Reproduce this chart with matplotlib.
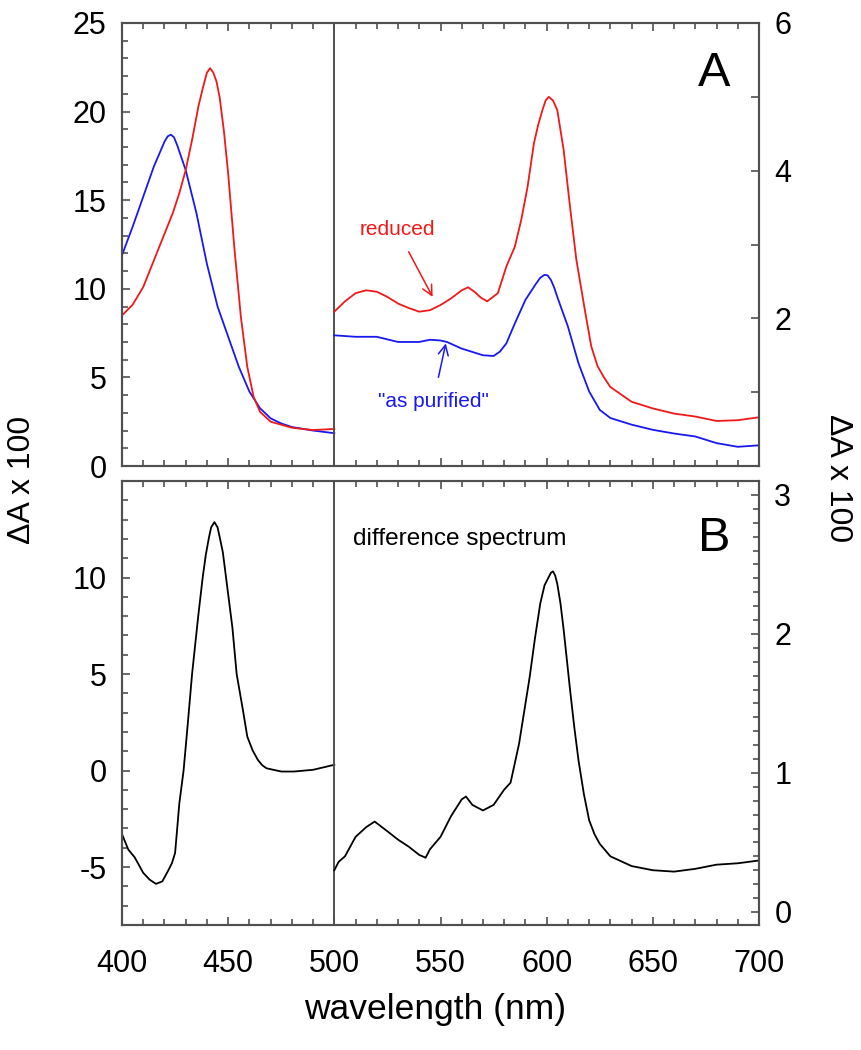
import matplotlib
matplotlib.use("Agg")
import matplotlib.pyplot as plt
from matplotlib.ticker import MultipleLocator, FixedLocator

plt.rcParams['font.family'] = ['Liberation Sans', 'DejaVu Sans']
plt.rcParams['axes.unicode_minus'] = False

# ---------------- data ----------------
# Panel A, left part (400-500 nm), left axis
A_left_blue_nm = [400, 405, 410, 415, 420, 421.5, 423, 424.5, 426, 430, 435, 440, 445, 450, 455, 460, 465, 470, 475, 480, 490, 500]
A_left_blue = [11.9, 13.5, 15.2, 16.9, 18.3, 18.6, 18.7, 18.55, 18.1, 16.7, 14.3, 11.4, 9.0, 7.3, 5.6, 4.2, 3.26, 2.69, 2.4, 2.2, 2.0, 1.85]
A_left_red_nm = [400, 405, 410, 415, 420, 424, 427, 430, 433, 436, 438, 440, 441.5, 443, 444.5, 446, 448, 450, 453, 456, 459, 462, 465, 470, 480, 490, 500]
A_left_red = [8.5, 9.1, 10.1, 11.6, 13.1, 14.3, 15.4, 16.7, 18.4, 20.3, 21.3, 22.2, 22.45, 22.2, 21.7, 20.8, 18.9, 16.5, 12.2, 8.4, 5.6, 3.9, 3.06, 2.5, 2.16, 2.03, 2.09]

# Panel A, right part (500-700 nm), right axis
A_right_red_nm = [500, 505, 510, 515, 520, 525, 530, 535, 540, 545, 550, 555, 560, 563, 566, 569, 572, 577, 581, 585, 588, 591, 594, 596, 598, 599.5, 601, 603, 605, 608, 611, 614, 618, 621, 624, 627, 630, 640, 650, 660, 670, 680, 690, 700]
A_right_red = [2.09, 2.23, 2.34, 2.38, 2.36, 2.29, 2.20, 2.14, 2.09, 2.11, 2.18, 2.27, 2.38, 2.42, 2.36, 2.28, 2.23, 2.34, 2.70, 2.97, 3.33, 3.78, 4.37, 4.62, 4.82, 4.95, 5.00, 4.95, 4.82, 4.28, 3.51, 2.79, 2.11, 1.62, 1.35, 1.20, 1.07, 0.87, 0.78, 0.71, 0.67, 0.61, 0.62, 0.66]
A_right_blue_nm = [500, 510, 520, 530, 540, 545, 550, 553, 560, 570, 575, 578, 581, 585, 590, 595, 597, 599, 600.5, 602, 603.5, 605, 610, 615, 620, 625, 630, 640, 650, 660, 670, 680, 690, 700]
A_right_blue = [1.77, 1.75, 1.75, 1.68, 1.68, 1.71, 1.70, 1.68, 1.59, 1.50, 1.49, 1.55, 1.66, 1.93, 2.25, 2.47, 2.55, 2.59, 2.58, 2.52, 2.42, 2.29, 1.89, 1.39, 1.01, 0.76, 0.65, 0.56, 0.49, 0.44, 0.40, 0.31, 0.26, 0.28]

# Panel B (difference spectrum)
B_left_nm = [400, 403, 406, 410, 413, 416, 419, 422, 423.5, 425, 426, 427, 429, 431, 433, 436, 438, 439.5, 441, 442, 443.5, 445, 446, 447.5, 449, 450.5, 452, 454, 457, 459, 461.5, 464, 466, 468, 475, 481, 490, 500]
B_left = [-3.3, -4.1, -4.5, -5.3, -5.65, -5.87, -5.74, -5.13, -4.8, -4.27, -3.0, -1.7, 0.0, 2.45, 5.0, 8.1, 10.0, 11.2, 12.1, 12.6, 12.87, 12.6, 12.1, 11.3, 10.0, 8.7, 7.4, 5.0, 3.1, 1.76, 1.05, 0.55, 0.28, 0.12, -0.05, -0.05, 0.04, 0.30]
B_right_nm = [500, 502, 505, 510, 515, 519, 525, 530, 535, 540, 543, 545, 550, 555, 560, 562, 565, 570, 575, 580, 583, 587, 589.5, 592, 594.5, 597, 599, 601, 602, 603, 604, 605, 606.5, 608, 611, 613, 615, 617.5, 620, 622.5, 625, 630, 640, 650, 660, 670, 680, 690, 700]
B_right = [0.30, 0.36, 0.40, 0.54, 0.61, 0.65, 0.58, 0.52, 0.47, 0.41, 0.39, 0.45, 0.54, 0.69, 0.81, 0.83, 0.77, 0.73, 0.77, 0.88, 0.93, 1.21, 1.45, 1.69, 1.97, 2.22, 2.35, 2.41, 2.44, 2.45, 2.42, 2.36, 2.22, 2.03, 1.60, 1.33, 1.09, 0.85, 0.66, 0.56, 0.49, 0.40, 0.33, 0.30, 0.29, 0.31, 0.34, 0.35, 0.37]

x_major = [400, 450, 500, 550, 600, 650, 700]
A_left_ticks = [0, 5, 10, 15, 20, 25]
A_right_ticks = [2, 4, 6]
B_left_ticks = [-5, 0, 5, 10]
B_right_ticks = [0, 1, 2, 3]

# ---------------- figure ----------------
W, H = 862, 1050
fig = plt.figure(figsize=(W / 100, H / 100), dpi=100)
fig.patch.set_facecolor('white')

def rect(l, t, r, b):
    return [l / W, 1 - b / H, (r - l) / W, (b - t) / H]

axA = fig.add_axes(rect(122, 23, 759, 466))
axB = fig.add_axes(rect(122, 481, 759, 925))
axA2 = axA.twinx()
axB2 = axB.twinx()

RED = '#f01818'
BLUE = '#1818f0'
SPINE = '#505050'
TFS = 22

axA.plot(A_left_blue_nm, A_left_blue, color=BLUE, lw=1.3)
axA.plot(A_left_red_nm, A_left_red, color=RED, lw=1.3)
axA2.plot(A_right_blue_nm, A_right_blue, color=BLUE, lw=1.3)
axA2.plot(A_right_red_nm, A_right_red, color=RED, lw=1.3)
axB.plot(B_left_nm, B_left, color='black', lw=1.3)
axB2.plot(B_right_nm, B_right, color='black', lw=1.3)

axA.set_ylim(0, 25)
axA2.set_ylim(0, 6)
axB.set_ylim(-8, 15)
axB2.set_ylim(-0.094, 3.10)

for ax in (axA, axB):
    ax.set_xlim(400, 700)
    ax.xaxis.set_major_locator(FixedLocator(x_major))
    ax.xaxis.set_minor_locator(MultipleLocator(10))
    ax.tick_params(axis='x', which='both', direction='in', top=True, bottom=True,
                   color=SPINE, width=1.2)
    ax.tick_params(axis='x', which='major', length=6, labelsize=TFS, pad=17)
    ax.tick_params(axis='x', which='minor', length=4)
    ax.axvline(500, color=SPINE, lw=1.4, zorder=3)
axA.tick_params(axis='x', labelbottom=False)

axA.yaxis.set_major_locator(FixedLocator(A_left_ticks))
axA.yaxis.set_minor_locator(MultipleLocator(1))
axA2.yaxis.set_major_locator(FixedLocator(A_right_ticks))
axA2.yaxis.set_minor_locator(FixedLocator([1, 3, 5]))
axB.yaxis.set_major_locator(FixedLocator(B_left_ticks))
axB.yaxis.set_minor_locator(MultipleLocator(1))
axB2.yaxis.set_major_locator(FixedLocator(B_right_ticks))
axB2.yaxis.set_minor_locator(MultipleLocator(0.1))

for ax in (axA, axB, axA2, axB2):
    ax.tick_params(axis='y', which='both', direction='in', color=SPINE, width=1.2)
    ax.tick_params(axis='y', which='major', length=6, labelsize=TFS, pad=11)
    ax.tick_params(axis='y', which='minor', length=4)
    for s in ax.spines.values():
        s.set_color(SPINE)
        s.set_linewidth(1.5)
axA2.tick_params(axis='y', which='minor', length=6)

# annotations
axA.text(0.93, 0.885, 'A', transform=axA.transAxes, fontsize=35,
         ha='center', va='center')
axB.text(0.93, 0.87, 'B', transform=axB.transAxes, fontsize=35,
         ha='center', va='center')
axB.text(0.363, 0.87, 'difference spectrum', transform=axB.transAxes, fontsize=17.6,
         ha='left', va='center')

axA2.annotate('reduced', xy=(546.3, 2.29), xytext=(529.5, 3.20), color=RED,
              fontsize=15, ha='center', va='center',
              arrowprops=dict(arrowstyle='->', color=RED, lw=1.1,
                              shrinkA=8, shrinkB=0, mutation_scale=18))
axA2.annotate('"as purified"', xy=(552.5, 1.66), xytext=(546.5, 0.87), color=BLUE,
              fontsize=15, ha='center', va='center',
              arrowprops=dict(arrowstyle='->', color=BLUE, lw=1.1,
                              shrinkA=9, shrinkB=0, mutation_scale=18))

fig.text(22 / W, 1 - 480 / H, 'ΔA x 100', rotation=90, fontsize=23,
         ha='center', va='center')
fig.text(838 / W, 1 - 478 / H, 'ΔA x 100', rotation=270, fontsize=23,
         ha='center', va='center')
fig.text(435 / W, 1 - 1010 / H, 'wavelength (nm)', fontsize=25.5,
         ha='center', va='center')

fig.savefig('out.png', dpi=100, facecolor='white')
